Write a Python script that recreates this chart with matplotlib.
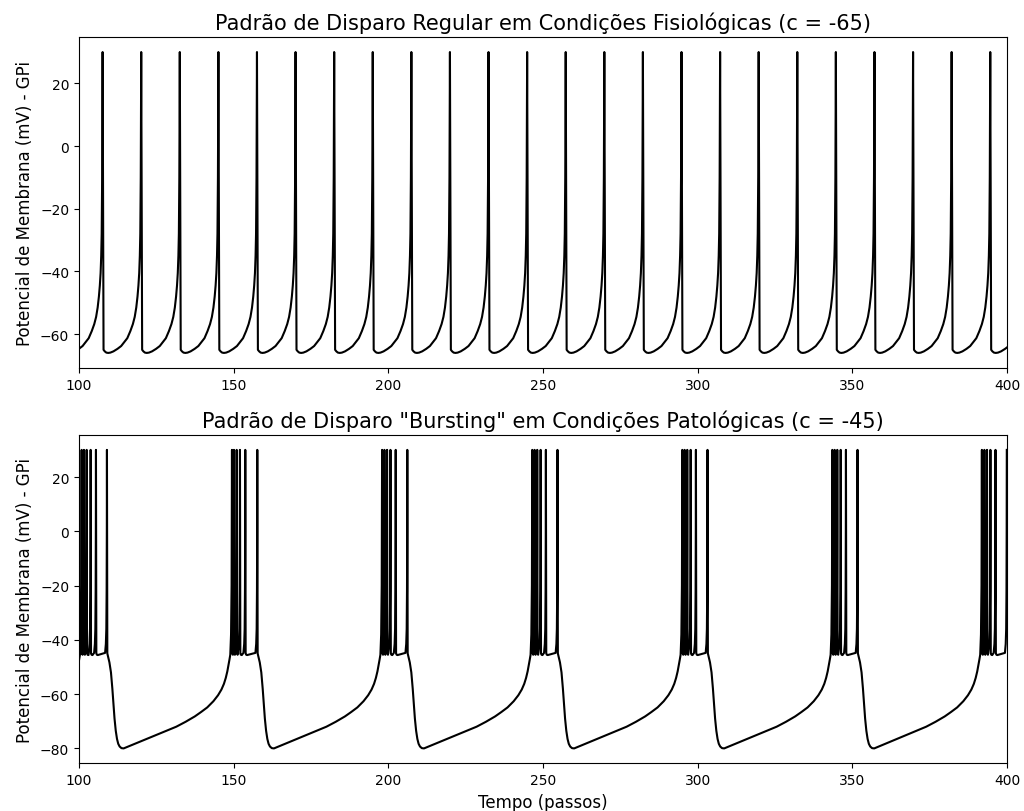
import numpy as np
import matplotlib
matplotlib.use("Agg")
import matplotlib.pyplot as plt

# ---------------- data ----------------
# Top panel: regular spiking (c = -65); spike times (steps)
top_spike_times = [95.17, 107.65, 120.13, 132.60, 145.08, 157.55, 170.03, 182.51,
                   194.98, 207.46, 219.93, 232.41, 244.89, 257.36, 269.84, 282.31,
                   294.79, 307.27, 319.74, 332.22, 344.69, 357.17, 369.65, 382.12,
                   394.60, 407.08]
# waveform after a spike (time after spike, mV)
top_after_dt = [0.0, 0.3, 0.7, 1.2, 1.8, 2.5, 3.5, 4.8, 6.0, 7.0]
top_after_v = [30.0, -65.0, -65.5, -65.9, -66.0, -65.9, -65.5, -64.7, -63.8, -62.8]
# waveform before the next spike (time before spike, mV)
top_before_dt = [4.5, 3.5, 2.7, 2.1, 1.6, 1.2, 0.9, 0.65, 0.45, 0.3, 0.15]
top_before_v = [-61.3, -59.0, -56.8, -54.5, -51.5, -48.0, -44.5, -40.5, -35.0, -28.0, -10.0]

# Bottom panel: bursting (c = -45); spike times (steps)
bot_spike_times = [60.30,
                   100.87, 101.62, 102.49, 103.78, 105.50, 109.05,
                   149.47, 150.12, 150.99, 152.05, 153.77, 157.65,
                   198.00, 198.75, 199.60, 200.70, 202.40, 206.15,
                   246.55, 247.30, 248.15, 249.25, 250.95, 254.70,
                   295.05, 295.80, 296.65, 297.75, 299.45, 303.20,
                   343.55, 344.30, 345.15, 346.25, 347.95, 351.70,
                   391.90, 392.70, 393.55, 394.65, 396.30, 399.95]
# inside a burst: after reset and before the next spike
burst_after_dt = [0.0, 0.12, 0.3, 0.6]
burst_after_v = [30.0, -45.0, -45.5, -45.6]
burst_before_dt = [0.6, 0.35, 0.2, 0.1, 0.04]
burst_before_v = [-44.8, -41.5, -36.0, -22.0, 0.0]
# after the last spike of a burst (hyperpolarisation)
post_after_dt = [0.0, 0.12, 0.4, 0.8, 1.3, 1.75, 2.1, 2.45, 2.85, 3.25, 3.65, 4.1, 4.7, 5.4]
post_after_v = [30.0, -45.0, -46.3, -48.3, -52.0, -58.0, -63.5, -69.0, -73.5, -76.5,
                -78.3, -79.3, -79.9, -80.0]
post_before_dt = [33.0, 30.0, 26.5, 22.0, 18.0, 15.0, 12.0, 10.0, 8.0, 6.0, 4.5, 3.4,
                  2.6, 2.0, 1.5, 1.1, 0.8, 0.55, 0.3, 0.12]
post_before_v = [-79.3, -78.0, -76.3, -74.2, -72.0, -70.2, -68.2, -66.6, -64.9, -62.6,
                 -60.4, -58.3, -56.2, -54.0, -51.6, -49.2, -47.2, -45.5, -38.0, -20.0]


def build_trace(spikes, pieces):
    ts, vs = [], []
    for s, n in zip(spikes[:-1], spikes[1:]):
        g = n - s
        adt, av, bdt, bv = pieces(g)
        seg = []
        for d, v in zip(adt, av):
            if d == 0 or d < g * 0.5:
                seg.append((s + d, v))
        for d, v in zip(bdt, bv):
            if d < g * 0.5:
                seg.append((n - d, v))
        seg.sort()
        for t, v in seg:
            ts.append(t)
            vs.append(v)
    ts.append(spikes[-1])
    vs.append(30.0)
    return np.array(ts), np.array(vs)


def top_pieces(g):
    return top_after_dt, top_after_v, top_before_dt, top_before_v


def bot_pieces(g):
    if g > 20:
        return post_after_dt, post_after_v, post_before_dt, post_before_v
    return burst_after_dt, burst_after_v, burst_before_dt, burst_before_v


t_top, v_top = build_trace(top_spike_times, top_pieces)
t_bot, v_bot = build_trace(bot_spike_times, bot_pieces)

fig = plt.figure(figsize=(10.24, 8.12), dpi=100)
ax1 = fig.add_axes([0.0771, 0.5456, 0.90625, 0.4076])
ax2 = fig.add_axes([0.0771, 0.0587, 0.90625, 0.4044])

ax1.plot(t_top, v_top, color="black", lw=1.5)
ax1.set_xlim(100, 400)
ax1.set_ylim(-70.8, 34.8)
ax1.set_title("Padrão de Disparo Regular em Condições Fisiológicas (c = -65)", fontsize=15)
ax1.set_ylabel("Potencial de Membrana (mV) - GPi", fontsize=12)

ax2.plot(t_bot, v_bot, color="black", lw=1.5)
ax2.set_xlim(100, 400)
ax2.set_ylim(-85.5, 35.5)
ax2.set_title('Padrão de Disparo "Bursting" em Condições Patológicas (c = -45)', fontsize=15)
ax2.set_ylabel("Potencial de Membrana (mV) - GPi", fontsize=12)
ax2.set_xlabel("Tempo (passos)", fontsize=12)

fig.savefig("out.png", dpi=100)
